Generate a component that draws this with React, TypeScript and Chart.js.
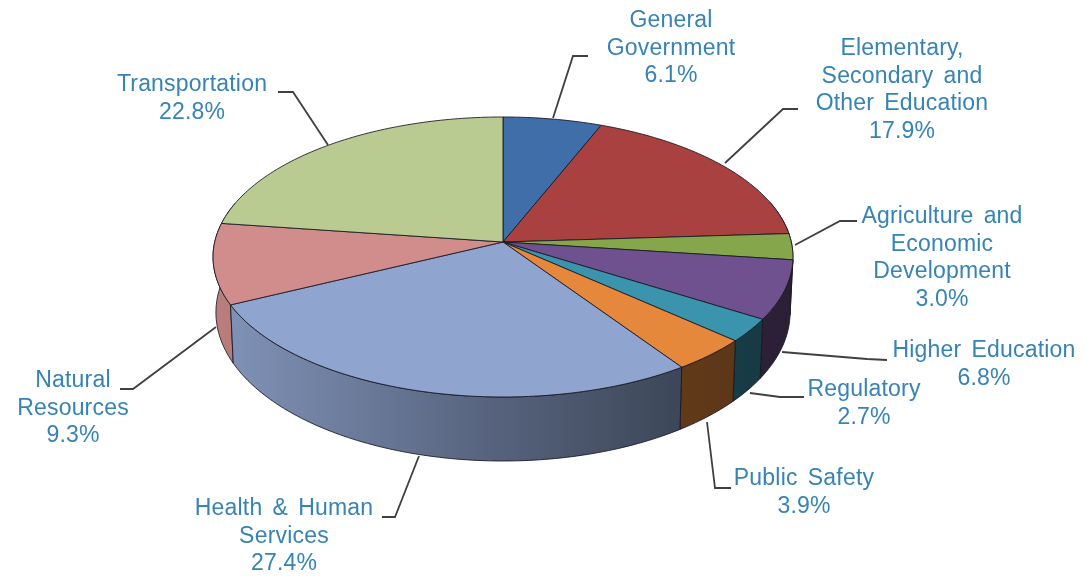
import React, { useEffect, useRef } from "react";
import { Chart, registerables } from "chart.js";

Chart.register(...registerables);

// Budget shares, clockwise from twelve o'clock.
const categories = [
  "General Government",
  "Elementary, Secondary and Other Education",
  "Agriculture and Economic Development",
  "Higher Education",
  "Regulatory",
  "Public Safety",
  "Health & Human Services",
  "Natural Resources",
  "Transportation",
];
const shares = [6.1, 17.9, 3.0, 6.8, 2.7, 3.9, 27.4, 9.3, 22.8];
const sliceColors = [
  "#3f6ea8", "#a8413f", "#86a64b", "#70518f", "#3a94ae",
  "#e5883c", "#8fa4ce", "#d08d8b", "#b9cb90",
];

// How each category name wraps on the page.
const labelLines = [
  ["General", "Government"],
  ["Elementary,", "Secondary and", "Other Education"],
  ["Agriculture and", "Economic", "Development"],
  ["Higher Education"],
  ["Regulatory"],
  ["Public Safety"],
  ["Health & Human", "Services"],
  ["Natural", "Resources"],
  ["Transportation"],
];

// Label anchors: centre x, first line y, then the leader polyline.
const labelLayout: { x: number; y: number; leader: [number, number][] }[] = [
  { x: 671, y: 21, leader: [[553, 118], [573, 56], [588, 56]] },
  { x: 902, y: 49, leader: [[725, 163], [783, 109], [798, 109]] },
  { x: 942, y: 217, leader: [[795, 245], [840, 221], [857, 221]] },
  { x: 984, y: 351, leader: [[782, 352], [867, 359], [887, 360]] },
  { x: 864, y: 390, leader: [[750, 393], [780, 397], [804, 397]] },
  { x: 804, y: 479, leader: [[707, 422], [715, 488], [731, 488]] },
  { x: 284, y: 509, leader: [[419, 456], [395, 517], [382, 517]] },
  { x: 73, y: 381, leader: [[216, 327], [133, 389], [120, 389]] },
  { x: 192, y: 85, leader: [[328, 145], [293, 92], [278, 92]] },
];

// Perspective disc: centre of the pie on screen, half-axes and foreshortening.
const CX = 503;
const CY = 242;
const AX = 288.3;
const AY = 138.4;
const PERSPECTIVE = 0.107;
const WALL_BASE = 54.5;
const WALL_GROW = 8.5;
const WALL_TAPER = 0.99;

const topPoint = (theta: number) => {
  const u = Math.sin(theta);
  const v = -Math.cos(theta);
  const w = 1 - PERSPECTIVE * v;
  return { x: CX + (AX * u) / w, y: CY + (AY * v) / w, v, w };
};

const bottomPoint = (theta: number) => {
  const p = topPoint(theta);
  return {
    x: CX + (p.x - CX) * WALL_TAPER,
    y: p.y + WALL_BASE + (WALL_GROW * p.v) / p.w,
  };
};

const shade = (hex: string, f: number) => {
  const n = parseInt(hex.slice(1), 16);
  const c = [(n >> 16) & 255, (n >> 8) & 255, n & 255].map((x) => Math.round(x * f));
  return `rgb(${c[0]},${c[1]},${c[2]})`;
};

const EDGE = "rgba(22,22,34,0.85)";
const STEP = Math.PI / 180;

const samples = (a: number, b: number) => {
  const n = Math.max(2, Math.ceil((b - a) / STEP));
  return Array.from({ length: n + 1 }, (_, i) => a + ((b - a) * i) / n);
};

// Projects the library's arc elements onto a tilted disc with a side wall.
const tiltedPie = {
  id: "tiltedPie",
  beforeDatasetDraw(chart: Chart, args: { meta: any }) {
    const { ctx } = chart;
    const arcs = args.meta.data.map((el: any, i: number) => ({
      a: el.startAngle + Math.PI / 2,
      b: el.endAngle + Math.PI / 2,
      color: el.options.backgroundColor as string,
      i,
    }));

    ctx.save();
    ctx.lineJoin = "round";
    ctx.lineWidth = 1;
    ctx.strokeStyle = EDGE;

    // Side wall, painted back to front.
    const order = [...arcs].sort(
      (p, q) => -Math.cos((p.a + p.b) / 2) + Math.cos((q.a + q.b) / 2)
    );
    for (const s of order) {
      const pts = samples(s.a, s.b).filter((t) => -Math.cos(t) > -0.3);
      if (pts.length < 2) continue;
      const grad = ctx.createLinearGradient(214, 0, 794, 0);
      grad.addColorStop(0, shade(s.color, 0.9));
      grad.addColorStop(0.49, shade(s.color, 0.6));
      grad.addColorStop(0.8, shade(s.color, 0.43));
      grad.addColorStop(1, shade(s.color, 0.38));
      ctx.beginPath();
      pts.forEach((t, k) => {
        const p = topPoint(t);
        if (k === 0) ctx.moveTo(p.x, p.y);
        else ctx.lineTo(p.x, p.y);
      });
      [...pts].reverse().forEach((t) => {
        const p = bottomPoint(t);
        ctx.lineTo(p.x, p.y);
      });
      ctx.closePath();
      ctx.fillStyle = grad;
      ctx.fill();
      ctx.stroke();
    }

    // Top face.
    for (const s of arcs) {
      ctx.beginPath();
      ctx.moveTo(CX, CY);
      samples(s.a, s.b).forEach((t) => {
        const p = topPoint(t);
        ctx.lineTo(p.x, p.y);
      });
      ctx.closePath();
      ctx.fillStyle = s.color;
      ctx.fill();
      ctx.stroke();
    }
    ctx.restore();
    return false;
  },
  afterDatasetsDraw(chart: Chart) {
    const { ctx } = chart;
    ctx.save();

    // Leader lines.
    ctx.strokeStyle = "#404040";
    ctx.lineWidth = 1.8;
    ctx.lineJoin = "miter";
    labelLayout.forEach(({ leader }) => {
      ctx.beginPath();
      leader.forEach(([x, y], k) => (k === 0 ? ctx.moveTo(x, y) : ctx.lineTo(x, y)));
      ctx.stroke();
    });

    // Category name with its share beneath.
    ctx.font = '23px "Liberation Sans", Arial, sans-serif';
    (ctx as any).letterSpacing = "0.2px";
    (ctx as any).wordSpacing = "3.5px";
    ctx.fillStyle = "#3683b4";
    ctx.textAlign = "center";
    ctx.textBaseline = "middle";
    labelLines.forEach((lines, i) => {
      const { x, y } = labelLayout[i];
      [...lines, `${shares[i].toFixed(1)}%`].forEach((line, k) => {
        ctx.fillText(line, x, y + k * 27.5);
      });
    });
    ctx.restore();
  },
};

export default function App() {
  const ref = useRef<HTMLCanvasElement>(null);

  useEffect(() => {
    document.body.style.margin = "0";
    document.body.style.background = "#ffffff";
    const chart = new Chart(ref.current!, {
      type: "pie",
      data: {
        labels: categories,
        datasets: [{ data: shares, backgroundColor: sliceColors, borderWidth: 0 }],
      },
      options: {
        animation: false,
        responsive: false,
        plugins: { legend: { display: false }, tooltip: { enabled: false } },
      },
      plugins: [tiltedPie],
    } as any);
    return () => chart.destroy();
  }, []);

  return <canvas ref={ref} width={1086} height={577} style={{ display: "block" }} />;
}
